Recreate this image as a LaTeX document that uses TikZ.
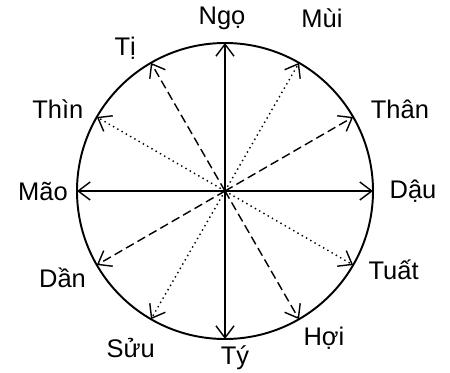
\documentclass[tikz,border=0pt]{standalone}
\usepackage{fontspec}
\setmainfont{Liberation Sans}
\usetikzlibrary{arrows.meta,positioning}
\tikzset{
  chiring/.style={draw,line width=1.1pt},
  chiarrow/.style={-{Straight Barb[length=2.4mm,width=3.6mm]},line width=0.8pt},
  chisolid/.style={chiarrow},
  chidash/.style={chiarrow,dash pattern=on 5pt off 2.5pt},
  chidot/.style={chiarrow,dash pattern=on 0.8pt off 2pt},
  chilabel/.style={font=\fontsize{14.5}{17}\selectfont,inner sep=1pt},
}

\begin{document}
\begin{tikzpicture}
\useasboundingbox (-4.5,-3.62) rectangle (4.5,3.82);
\coordinate (o) at (0,0);
\draw[chiring] (o) circle (2.96);
% points on the ring
\coordinate (ngo) at (90:2.96);
\coordinate (mui) at (60:2.96);
\coordinate (than) at (30:2.96);
\coordinate (dau) at (0:2.96);
\coordinate (tuat) at (-30:2.96);
\coordinate (hoi) at (-60:2.96);
\coordinate (ty) at (-90:2.96);
\coordinate (suu) at (-120:2.96);
\coordinate (dan) at (-150:2.96);
\coordinate (mao) at (180:2.96);
\coordinate (thin) at (150:2.96);
\coordinate (ti) at (120:2.96);
% arrows
\draw[chisolid] (o) -- (ngo);
\draw[chisolid] (o) -- (dau);
\draw[chisolid] (o) -- (ty);
\draw[chisolid] (o) -- (mao);
\draw[chidash] (o) -- (than);
\draw[chidash] (o) -- (hoi);
\draw[chidash] (o) -- (dan);
\draw[chidash] (o) -- (ti);
\draw[chidot] (o) -- (mui);
\draw[chidot] (o) -- (tuat);
\draw[chidot] (o) -- (suu);
\draw[chidot] (o) -- (thin);
% labels
\node[chilabel] (ngol) at (91:3.46) {Ngọ};
\node[chilabel] (muil) at (60.7:3.96) {Mùi};
\node[chilabel] (thanl) at (25:3.86) {Thân};
\node[chilabel] (daul) at (0:3.76) {Dậu};
\node[chilabel] (tuatl) at (-25:3.72) {Tuất};
\node[chilabel] (hoil) at (-56:3.54) {Hợi};
\node[chilabel] (tyl) at (-86.6:3.35) {Tý};
\node[chilabel] (suul) at (-121:3.66) {Sửu};
\node[chilabel] (danl) at (-152:3.68) {Dần};
\node[chilabel] (maol) at (180:3.64) {Mão};
\node[chilabel] (thinl) at (154:3.72) {Thìn};
\node[chilabel] (til) at (125:3.48) {Tị};
\end{tikzpicture}
\end{document}
